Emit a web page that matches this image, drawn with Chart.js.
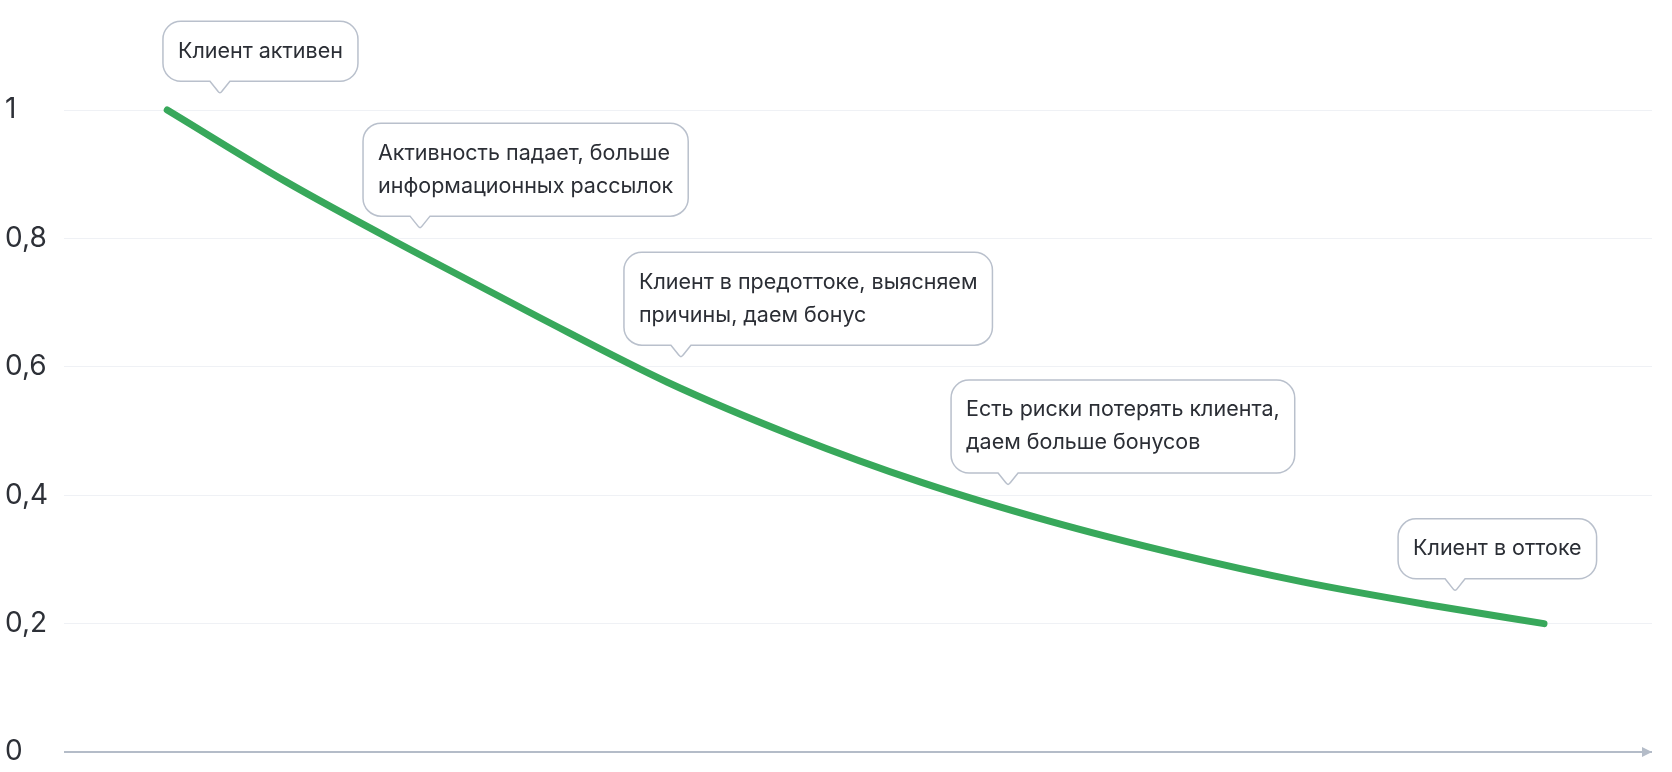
<!DOCTYPE html>
<html>
<head>
<meta charset="utf-8">
<script src="https://cdn.jsdelivr.net/npm/chart.js@4/dist/chart.umd.min.js"></script>
<style>
  html, body { margin: 0; padding: 0; background: #ffffff; }
  #wrap { width: 1672px; height: 772px; position: relative; }
</style>
</head>
<body>
<div id="wrap"><canvas id="c"></canvas></div>
<script>
// ---- data ----
const xValues = [6.5, 14, 22, 30, 38, 46, 54, 62, 70, 78, 86, 93.2];
const yValues = [1.0, 0.888, 0.78, 0.676, 0.576, 0.492, 0.42, 0.36, 0.309, 0.265, 0.229, 0.2];
const yTickValues = [0, 0.2, 0.4, 0.6, 0.8, 1];
const yTickLabels = ['0', '0,2', '0,4', '0,6', '0,8', '1'];
const noteTexts = [
  ['Клиент активен'],
  ['Активность падает, больше', 'информационных рассылок'],
  ['Клиент в предоттоке, выясняем', 'причины, даем бонус'],
  ['Есть риски потерять клиента,', 'даем больше бонусов'],
  ['Клиент в оттоке']
];
const noteX = [9.82, 22.42, 38.85, 59.45, 87.6];
const noteY = [1.026, 0.816, 0.615, 0.416, 0.251];

// ---- styles ----
const FONT = 'Inter, "Noto Sans", sans-serif';
const TEXT_COLOR = '#2b2e35';

const bubblePlugin = {
  id: 'bubbles',
  afterDatasetsDraw(chart) {
    const ctx = chart.ctx;
    const xs = chart.scales.x, ys = chart.scales.y;
    ctx.save();
    ctx.font = '21.5px ' + FONT;
    noteTexts.forEach((lines, i) => {
      const tx = xs.getPixelForValue(noteX[i]);
      const ty = ys.getPixelForValue(noteY[i]);
      const tw = Math.max(...lines.map(l => ctx.measureText(l).width));
      const w = tw + 30;
      const lh = 33;
      const h = lines.length * lh + 27;
      const left = tx - 57;
      const bottom = ty - 12;
      const top = bottom - h;
      const right = left + w;
      const r = 18;
      ctx.beginPath();
      ctx.moveTo(left + r, top);
      ctx.lineTo(right - r, top);
      ctx.arcTo(right, top, right, top + r, r);
      ctx.lineTo(right, bottom - r);
      ctx.arcTo(right, bottom, right - r, bottom, r);
      ctx.lineTo(tx + 10, bottom);
      ctx.lineTo(tx + 2, ty - 2);
      ctx.quadraticCurveTo(tx, ty + 1, tx - 2, ty - 2);
      ctx.lineTo(tx - 10, bottom);
      ctx.lineTo(left + r, bottom);
      ctx.arcTo(left, bottom, left, bottom - r, r);
      ctx.lineTo(left, top + r);
      ctx.arcTo(left, top, left + r, top, r);
      ctx.closePath();
      ctx.fillStyle = '#ffffff';
      ctx.fill();
      ctx.lineWidth = 1.5;
      ctx.strokeStyle = '#b9c0cc';
      ctx.stroke();
      ctx.fillStyle = TEXT_COLOR;
      ctx.textBaseline = 'middle';
      ctx.textAlign = 'left';
      const cy = (top + bottom) / 2;
      lines.forEach((l, k) => {
        const y = cy + (k - (lines.length - 1) / 2) * lh;
        ctx.fillText(l, left + 15, y);
      });
    });
    ctx.restore();
  }
};

const arrowPlugin = {
  id: 'arrow',
  afterDraw(chart) {
    const ctx = chart.ctx;
    const a = chart.chartArea;
    const y0 = chart.scales.y.getPixelForValue(0);
    ctx.save();
    ctx.fillStyle = '#b4bcc8';
    ctx.beginPath();
    ctx.moveTo(a.right, y0);
    ctx.lineTo(a.right - 10, y0 - 5);
    ctx.lineTo(a.right - 10, y0 + 5);
    ctx.closePath();
    ctx.fill();
    ctx.restore();
  }
};

new Chart(document.getElementById('c'), {
  type: 'line',
  data: {
    datasets: [{
      data: xValues.map((x, i) => ({ x: x, y: yValues[i] })),
      borderColor: '#38a85b',
      borderWidth: 7,
      borderCapStyle: 'round',
      borderJoinStyle: 'round',
      pointRadius: 0,
      cubicInterpolationMode: 'monotone',
      fill: false,
      clip: false
    }]
  },
  options: {
    responsive: true,
    maintainAspectRatio: false,
    animation: false,
    devicePixelRatio: 1,
    layout: { padding: { left: 5, right: 20, top: 110, bottom: 20 } },
    plugins: { legend: { display: false }, tooltip: { enabled: false } },
    scales: {
      x: { type: 'linear', min: 0, max: 100, display: false },
      y: {
        min: 0, max: 1,
        afterFit(scale) { scale.width = 59; },
        afterBuildTicks(scale) { scale.ticks = yTickValues.map(v => ({ value: v })); },
        border: { display: false },
        grid: {
          drawTicks: false,
          color: ctx => ctx.tick && ctx.tick.value === 0 ? '#b4bcc8' : '#eff1f5',
          lineWidth: ctx => ctx.tick && ctx.tick.value === 0 ? 2 : 1
        },
        ticks: {
          crossAlign: 'far',
          padding: 0,
          color: '#2d3037',
          font: { family: FONT, size: 28 },
          callback: (v) => { const i = yTickValues.indexOf(v); return i >= 0 ? yTickLabels[i] : ''; }
        }
      }
    }
  },
  plugins: [bubblePlugin, arrowPlugin]
});
</script>
</body>
</html>
